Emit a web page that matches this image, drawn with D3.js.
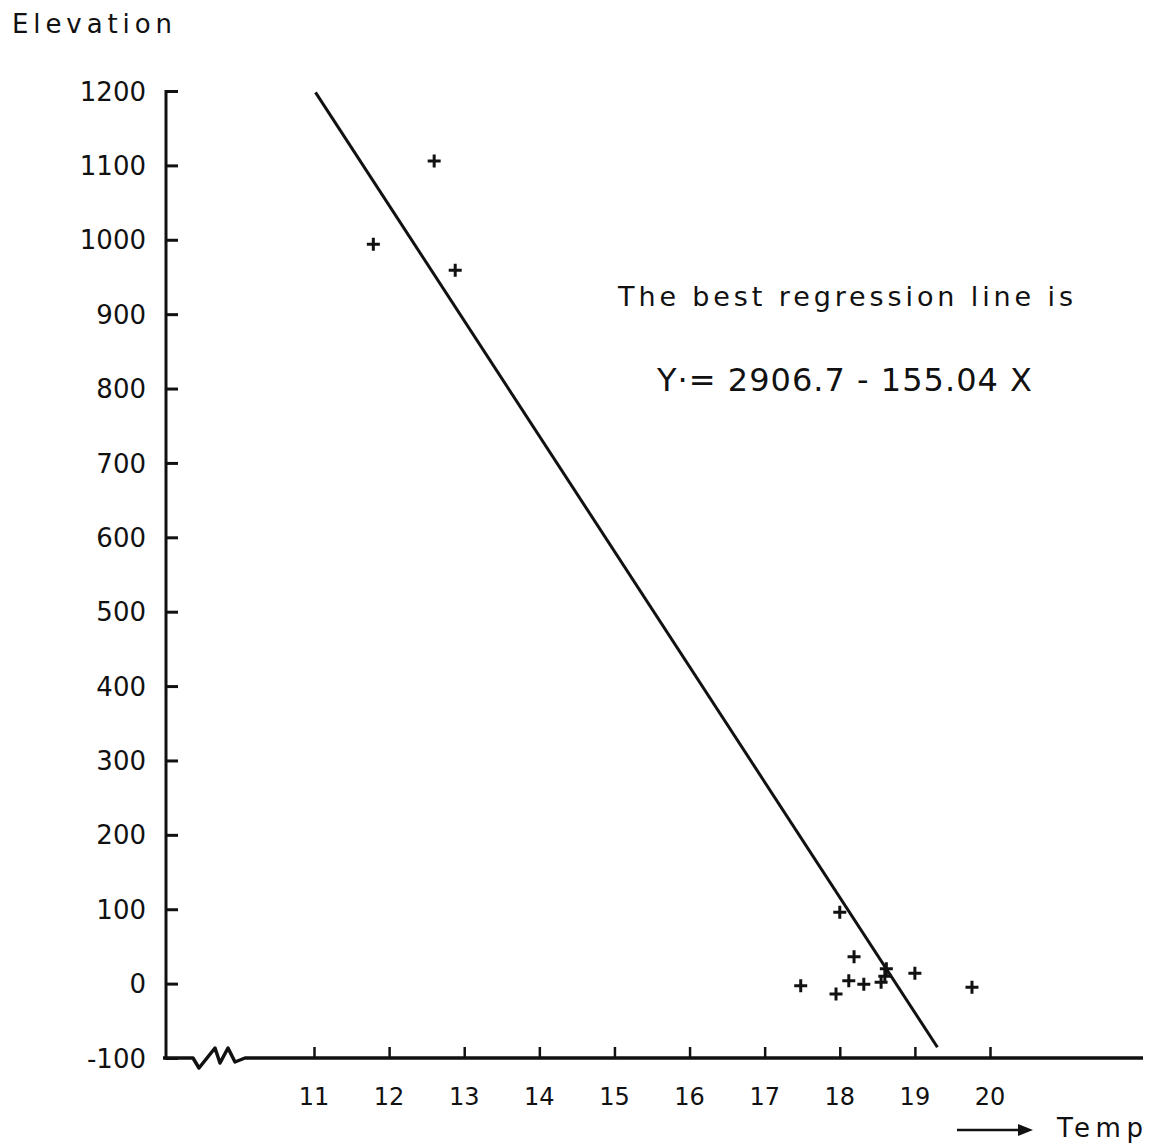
<!DOCTYPE html>
<html>
<head>
<meta charset="utf-8">
<script src="https://cdn.jsdelivr.net/npm/d3@7"></script>
<style>
  body { margin: 0; background: #fff; }
  svg { display: block; }
  text { font-family: "DejaVu Sans", sans-serif; fill: #111; }
</style>
</head>
<body>
<svg id="chart"></svg>
<script>
// data
var tempVals = [11.79, 12.6, 12.88, 18.0, 18.19, 17.48, 18.32, 18.55, 18.6, 18.62, 19.0, 19.76, 18.12, 17.95];
var elevVals = [994, 1106, 959, 96, 36, -3, -1, 2, 10, 20, 14, -5, 4, -14];
var xTicks = [11, 12, 13, 14, 15, 16, 17, 18, 19, 20];
var yTicks = [1200, 1100, 1000, 900, 800, 700, 600, 500, 400, 300, 200, 100, 0, -100];
var intercept = 2906.7;
var slope = -155.04;
var lineTemps = [11.02, 19.3];

var width = 1157, height = 1148;
var svg = d3.select('#chart').attr('width', width).attr('height', height);

var xScale = d3.scaleLinear().domain([11, 20]).range([314, 990]);
var yScale = d3.scaleLinear().domain([-100, 1200]).range([1058, 91]);

var axisX0 = 166;   // y-axis position
var axisY0 = 1058;  // x-axis position
var ink = '#111';

// y axis: ticks point inwards, labels on the left
var yAxis = d3.axisRight(yScale).tickValues(yTicks).tickSize(12).tickFormat('');
var gy = svg.append('g').attr('transform', 'translate(' + axisX0 + ',0)').call(yAxis);
gy.select('.domain').remove();
gy.selectAll('.tick line').attr('stroke', ink).attr('stroke-width', 3);
svg.append('line')
  .attr('x1', axisX0).attr('x2', axisX0)
  .attr('y1', yScale(1200) - 1).attr('y2', axisY0 + 1.5)
  .attr('stroke', ink).attr('stroke-width', 3);

svg.selectAll('.ylab')
  .data(yTicks)
  .enter().append('text')
  .attr('class', 'ylab')
  .attr('x', 146)
  .attr('y', function(d) { return yScale(d); })
  .attr('dy', '0.37em')
  .attr('text-anchor', 'end')
  .style('font-size', '26px')
  .text(function(d) { return d < 0 ? '-' + Math.abs(d) : d; });

// x axis: ticks point upward
var xAxis = d3.axisTop(xScale).tickValues(xTicks).tickSize(11).tickFormat('');
var gx = svg.append('g').attr('transform', 'translate(0,' + axisY0 + ')').call(xAxis);
gx.select('.domain').remove();
gx.selectAll('.tick line').attr('stroke', ink).attr('stroke-width', 2.5);

// axis line with the break zigzag
var brk = [[0, 0], [30, 0], [36, 10], [52, -10], [57, 5], [65, -10], [72, 4], [82, 0]];
var axisPts = brk.map(function(p) { return [axisX0 - 3 + p[0], axisY0 + p[1]]; });
axisPts.push([1143, axisY0]);
svg.append('path')
  .attr('d', d3.line()(axisPts))
  .attr('fill', 'none').attr('stroke', ink).attr('stroke-width', 3.5)
  .attr('stroke-linejoin', 'round');

svg.selectAll('.xlab')
  .data(xTicks)
  .enter().append('text')
  .attr('class', 'xlab')
  .attr('x', function(d) { return xScale(d); })
  .attr('y', 1105)
  .attr('text-anchor', 'middle')
  .style('font-size', '24px')
  .text(function(d) { return d; });

// axis titles
svg.append('text')
  .attr('x', 12).attr('y', 33)
  .attr('textLength', 160).attr('lengthAdjust', 'spacing')
  .style('font-size', '26px')
  .text('Elevation');

svg.append('line')
  .attr('x1', 957).attr('x2', 1028).attr('y1', 1130).attr('y2', 1130)
  .attr('stroke', ink).attr('stroke-width', 2.5);
svg.append('path')
  .attr('d', 'M1018,1124 L1033,1130 L1018,1136 Z')
  .attr('fill', ink);
svg.append('text')
  .attr('x', 1057).attr('y', 1137)
  .attr('textLength', 86).attr('lengthAdjust', 'spacing')
  .style('font-size', '26px')
  .text('Temp');

// regression line
svg.append('path')
  .attr('d', d3.line()
    .x(function(t) { return xScale(t); })
    .y(function(t) { return yScale(intercept + slope * t); })(lineTemps))
  .attr('fill', 'none').attr('stroke', ink).attr('stroke-width', 3);

// data points as plus markers
var pts = tempVals.map(function(t, i) { return [t, elevVals[i]]; });
svg.selectAll('.pt')
  .data(pts)
  .enter().append('path')
  .attr('class', 'pt')
  .attr('transform', function(d) { return 'translate(' + xScale(d[0]) + ',' + yScale(d[1]) + ')'; })
  .attr('d', 'M-6.5,0 L6.5,0 M0,-6.5 L0,6.5')
  .attr('stroke', ink).attr('stroke-width', 3);

// annotation
svg.append('text')
  .attr('x', 618).attr('y', 306)
  .attr('textLength', 455).attr('lengthAdjust', 'spacing')
  .style('font-size', '27px')
  .text('The best regression line is');
svg.append('text')
  .attr('x', 657).attr('y', 391)
  .attr('textLength', 375).attr('lengthAdjust', 'spacing')
  .style('font-size', '32px')
  .text('Y·= 2906.7 - 155.04 X');
</script>
</body>
</html>
